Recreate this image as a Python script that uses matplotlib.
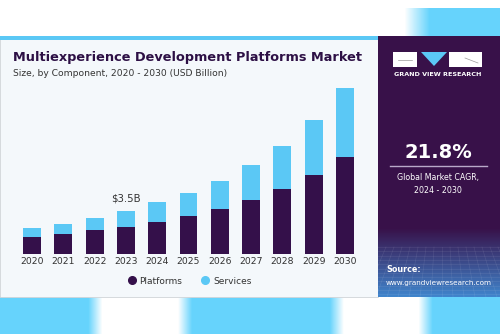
import numpy as np
import matplotlib
matplotlib.use('Agg')
import matplotlib.pyplot as plt
from matplotlib.patches import Rectangle, Polygon
from matplotlib.lines import Line2D

years = ['2020', '2021', '2022', '2023', '2024', '2025', '2026', '2027', '2028', '2029', '2030']
platforms = [1.38, 1.65, 1.93, 2.17, 2.58, 3.09, 3.69, 4.40, 5.29, 6.43, 7.90]
services = [0.71, 0.79, 1.00, 1.33, 1.63, 1.85, 2.28, 2.84, 3.53, 4.50, 5.61]
callout_year = '2023'
callout_text = '$3.5B'
cagr = '21.8%'

DARK = '#34104a'
BLUE = '#5bc8f5'
TXT = '#333333'
W, H = 500, 334

fig = plt.figure(figsize=(5, 3.34), dpi=100, facecolor='white')

# decoration layer in pixel coords
bg = fig.add_axes([0, 0, 1, 1], zorder=0)
bg.axis('off')

# top-right blue blob
xs = np.linspace(0, W, 500)
top = np.clip((xs - 405) / 25, 0, 1)
img = np.ones((1, 500, 3))
blue = np.array([0.40, 0.83, 0.99])
for i in range(3):
    img[0, :, i] = 1 + (blue[i] - 1) * top
bg.imshow(img, extent=[0, W, 36, 8], aspect='auto', zorder=0)
# bottom blue band with white gaps
gap = np.zeros_like(xs)
for a, b in [(88, 192), (330, 433)]:
    gap = np.maximum(gap, np.clip(np.minimum(xs - a, b - xs) / 14, 0, 1))
img2 = np.ones((1, 500, 3))
for i in range(3):
    img2[0, :, i] = blue[i] + (1 - blue[i]) * gap
bg.imshow(img2, extent=[0, W, H, 297], aspect='auto', zorder=0)

# card
bg.add_patch(Rectangle((0, 36), 378, 261, facecolor='#f4f8fb', edgecolor='#d0d4d8', lw=0.6, zorder=1))
bg.add_patch(Rectangle((0, 36), 378, 4, facecolor=BLUE, lw=0, zorder=2))
# right panel with gradient to blue at the bottom
ys = np.linspace(0, 1, 200)
t = np.clip((ys - 0.74) / 0.26, 0, 1)[:, None]
c0 = np.array([0.22, 0.07, 0.29]); c1 = np.array([0.25, 0.52, 0.80])
panel = (c0 + (c1 - c0) * t)[:, None, :].repeat(2, axis=1)
bg.imshow(panel, extent=[378, 500, 297, 36], aspect='auto', zorder=1)
for k in range(12):
    yy = 247 + k * 4.3
    bg.plot([378, 500], [yy, yy], color='white', alpha=0.09, lw=0.5, zorder=2)
for k in range(16):
    bg.plot([378 + k * 8, 378 + k * 8 + (k - 8) * 3], [247, 297], color='white', alpha=0.09, lw=0.5, zorder=2)

# logo
bg.add_patch(Rectangle((393, 52), 24, 15, facecolor='white', lw=0, zorder=3))
bg.add_patch(Polygon([(421, 52), (447, 52), (434, 66)], closed=True, facecolor=BLUE, lw=0, zorder=3))
bg.add_patch(Rectangle((449, 52), 33, 15, facecolor='white', lw=0, zorder=3))
bg.plot([398, 412], [59.5, 59.5], color='#9a9a9a', lw=0.5, zorder=4)
bg.plot([465, 478], [58, 63], color='#9a9a9a', lw=0.5, zorder=4)
bg.text(438, 74, 'GRAND VIEW RESEARCH', color='white', fontsize=4.6, fontweight='bold',
        ha='center', va='center', zorder=3)

bg.text(438, 152, cagr, color='white', fontsize=14, fontweight='bold', ha='center', va='center', zorder=3)
bg.plot([390, 487], [166, 166], color='#b9a9c9', lw=1, zorder=3)
bg.text(438, 184, 'Global Market CAGR,\n2024 - 2030', color='white', fontsize=5.7,
        ha='center', va='center', linespacing=1.45, zorder=3)
bg.text(386, 270, 'Source:', color='white', fontsize=5.8, fontweight='bold', ha='left', va='center', zorder=3)
bg.text(386, 283, 'www.grandviewresearch.com', color='white', fontsize=5.2, ha='left', va='center', zorder=3)

# titles
bg.text(13, 58, 'Multiexperience Development Platforms Market', color='#2d1045', fontsize=9.3,
        fontweight='heavy', ha='left', va='center', zorder=3)
bg.text(13, 73, 'Size, by Component, 2020 - 2030 (USD Billion)', color=TXT, fontsize=6.6,
        ha='left', va='center', zorder=3)

bg.set_xlim(0, W); bg.set_ylim(H, 0)

# chart axes: centers 32..345 px, baseline 254 px
px_per = 31.3
left = 32 - px_per / 2
ax = fig.add_axes([left / W, (H - 254) / H, (11 * px_per) / W, 174 / H], zorder=2)
ax.patch.set_alpha(0)
x = np.arange(len(years))
ax.bar(x, platforms, width=0.575, color=DARK, label='Platforms')
ax.bar(x, services, width=0.575, bottom=platforms, color=BLUE, label='Services')
ax.set_xlim(-0.5, 10.5)
ax.set_ylim(0, 174 * 3.5 / 43)
ax.set_xticks(x)
ax.set_xticklabels(years, fontsize=6.7, color=TXT)
ax.tick_params(axis='x', length=0, pad=2.5)
ax.set_yticks([])
for s in ax.spines.values():
    s.set_visible(False)
i = years.index(callout_year)
ax.text(i, platforms[i] + services[i] + 0.6, callout_text, ha='center', va='bottom', fontsize=7.3, color=TXT)

handles = [Line2D([], [], ls='none', marker='o', markersize=5.5, color=c) for c in (DARK, BLUE)]
ax.legend(handles, ['Platforms', 'Services'], loc='center', bbox_to_anchor=(190 / W, (H - 281) / H),
          bbox_transform=fig.transFigure, ncol=2, frameon=False, fontsize=6.5,
          handlelength=0.7, columnspacing=2.2, handletextpad=0.5, labelcolor=TXT)

fig.savefig('out.png', dpi=100, facecolor='white')
